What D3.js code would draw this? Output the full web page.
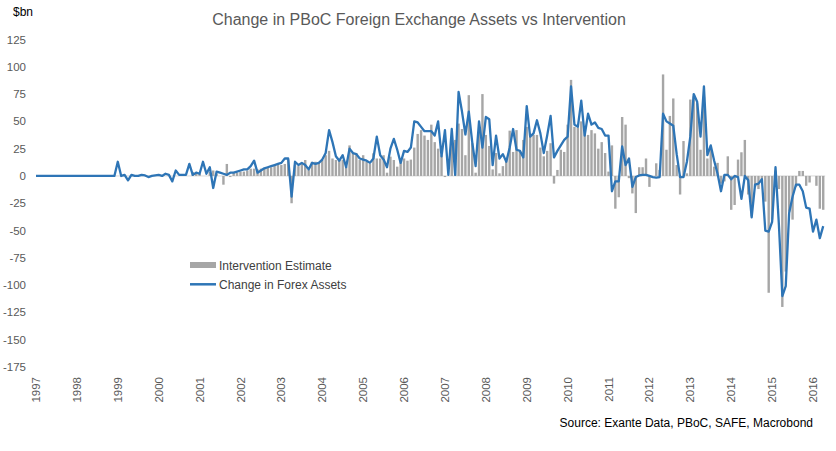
<!DOCTYPE html>
<html><head><meta charset="utf-8">
<script src="https://cdn.jsdelivr.net/npm/d3@7/dist/d3.min.js"></script>
<style>body{margin:0;background:#fff}svg{display:block;font-family:"Liberation Sans",Arial,sans-serif}</style>
</head><body><svg id="c" width="836" height="451"></svg>
<script>
// Monthly data, Jan 1997 (index 0) to Apr 2016
const years = ["1997","1998","1999","2000","2001","2002","2003","2004","2005","2006","2007","2008","2009","2010","2011","2012","2013","2014","2015","2016"];
const yTicks = [125,100,75,50,25,0,-25,-50,-75,-100,-125,-150,-175];
const forexChange = [
0,0,0,0,0,0,0,0,0,0,0,0,
0,0,0,0,0,0,0,0,0,0,0,0,
13,0,1,-4,1,0,0,1,0.5,-1,0,0.5,
1,0,2,1,-5,5,1,1,1,11,1,3,
2,13,2,8,-11,4,3,2,1,3,3,4,
5,6,6,9,14,3,5,7,8,9,10,11,
12,16,16,-19,13,10,12,10,6,12,11,12,
15,21,42,31,18,14,19,8,25,21,20,16,
15,14,12,16,36,19,15,8,25,34,24,12,
23,22,26,50,49,45,41,41,41,37,50,18,
42,1,43,1,77,59,38,59,31,9,50,26,
54,52,10,37,16,20,13,26,43,24,23,17,
64,36,39,51,39,21,37,55,17,23,28,33,
36,82,47,45,69,37,57,47,49,44,43,37,
37,-14,-5,-5,27,10,16,-10,-1,0.5,1,1,
0,-1,-1.5,-1,57,50,48,46,20,-1,-1,13,
36,75,68,36,82,19,28,14,2,-14,1,1,
-3,0,-1,-21,0,-4,-38,-8,-7,-3,-50,-51,
-42,8,-45,-110,-101,-34,-19,-8,-8,-14,-29,-30,
-51,-40,-57,-46
];
const intervention = [
null,null,null,null,null,null,null,null,null,null,null,null,
null,null,null,null,null,null,null,null,null,null,null,null,
null,null,null,null,null,null,null,null,null,null,null,null,
null,null,null,null,null,null,null,0.6,0,0,3.7,3.7,
2,0,0,3.7,5,2,0,-8,11,-1,3,3,
4,4,5,6.7,6.7,6,6.7,6.7,8,8,10,11,
10,11,15,-25,10,9,12,14.6,5.5,13,13,11.6,
14.6,19,23,16,14.6,14.6,14.6,8.5,28,21,21,14.6,
19,13,11,20.8,16,16,19,3,17.7,14.6,8.5,16,
16,14,15,26,38.5,42,37,33,47,31,25,19,
-1,0,33,33,48,43,19,74,30,3,40,75,
37.6,27.5,6,21,2.4,9,15,41.5,22,42,22,33,
45,36,37.6,37.6,26,18,23,30,-7,5.5,24,22,
47,88,45,44,50,45,37.6,42,39,25,31,21,
4,28,-30,-19.5,54,47,-2,-16,-34,8,8,16,
-10,0,11.6,5.5,93,24,55,71,10,-17,32,2.4,
70,73,66.5,24,72.7,16,27,8.5,12,-7,-5,18,
-31,-26.6,15,21.7,33,-17,-37,-10,-12,-5,-23.5,-107,
-40,5,-12,-120,-87.6,-32.7,-40,-10,4.6,4.6,-9,-6,
0,-9,-30,-31
];

const svg = d3.select("#c");
const x = d3.scaleLinear().domain([0, 228]).range([36, 813]);
const y = d3.scaleLinear().domain([-175, 125]).range([367, 39.5]);

// title
svg.append("text").attr("x", 419).attr("y", 25).attr("text-anchor","middle")
  .attr("font-size", 16).attr("fill", "#595959")
  .text("Change in PBoC Foreign Exchange Assets vs Intervention");
svg.append("text").attr("x", 13).attr("y", 16).attr("font-size", 12).attr("fill", "#000")
  .text("$bn");

// y tick labels
svg.append("g").selectAll("text").data(yTicks).join("text")
  .attr("x", 26).attr("y", d => y(d)).attr("dy", "0.35em")
  .attr("text-anchor", "end").attr("font-size", 11.5).attr("fill", "#595959")
  .text(d => d);

// year labels
svg.append("g").selectAll("text").data(years).join("text")
  .attr("transform", (d, i) => `translate(${x(i*12)},377) rotate(-90)`)
  .attr("dy", "0.35em").attr("text-anchor", "end")
  .attr("font-size", 11.5).attr("fill", "#595959")
  .text(d => d);

// zero line
svg.append("line").attr("x1", x(0)).attr("x2", x(231) + 2)
  .attr("y1", y(0)).attr("y2", y(0)).attr("stroke", "#d9d9d9").attr("stroke-width", 1);

// bars
const bw = 2.4;
svg.append("g").selectAll("rect")
  .data(intervention.map((v, i) => ({i, v})).filter(d => d.v !== null))
  .join("rect")
  .attr("x", d => x(d.i) - bw/2)
  .attr("width", bw)
  .attr("y", d => y(Math.max(0, d.v)))
  .attr("height", d => Math.abs(y(d.v) - y(0)))
  .attr("fill", "#a6a6a6");

// line
const line = d3.line().x((d, i) => x(i)).y(d => y(d));
svg.append("path").datum(forexChange).attr("d", line)
  .attr("fill", "none").attr("stroke", "#2e75b6").attr("stroke-width", 2.3)
  .attr("stroke-linejoin", "round");

// legend
svg.append("rect").attr("x", 190).attr("y", 262).attr("width", 26).attr("height", 6).attr("fill", "#a6a6a6");
svg.append("text").attr("x", 219).attr("y", 265.5).attr("dy", "0.35em").attr("font-size", 12).attr("fill", "#404040")
  .text("Intervention Estimate");
svg.append("line").attr("x1", 190).attr("x2", 216).attr("y1", 284.3).attr("y2", 284.3)
  .attr("stroke", "#2e75b6").attr("stroke-width", 2.5);
svg.append("text").attr("x", 219).attr("y", 284.3).attr("dy", "0.35em").attr("font-size", 12).attr("fill", "#404040")
  .text("Change in Forex Assets");

// source
svg.append("text").attr("x", 813).attr("y", 423).attr("dy", "0.35em").attr("text-anchor", "end")
  .attr("font-size", 12).attr("fill", "#000")
  .text("Source: Exante Data, PBoC, SAFE, Macrobond");
</script></body></html>
